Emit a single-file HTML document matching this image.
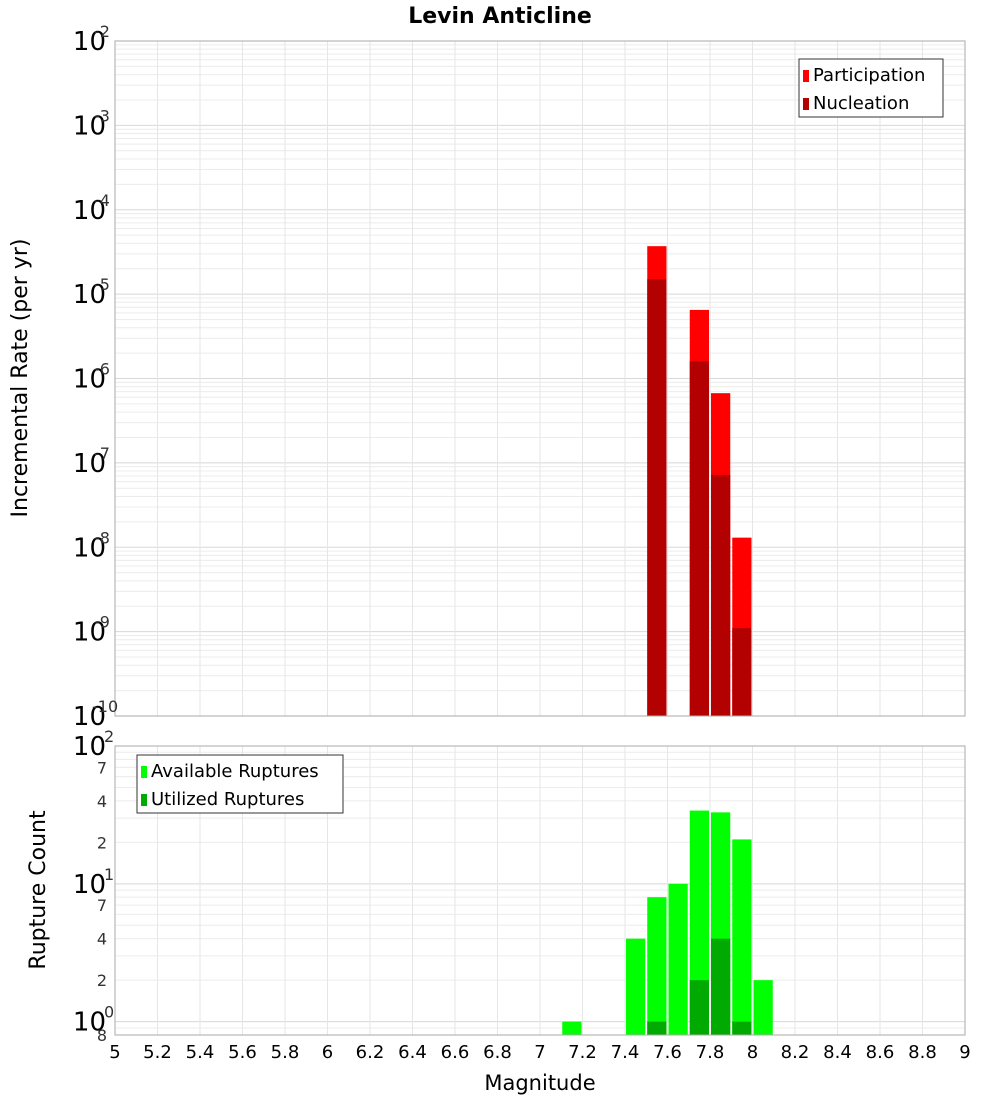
<!DOCTYPE html>
<html><head><meta charset="utf-8"><style>
body{margin:0;background:#fff;font-family:"DejaVu Sans","Liberation Sans",sans-serif}
svg text{font-family:"DejaVu Sans","Liberation Sans",sans-serif}
</style></head><body>
<svg id="c" width="1000" height="1100" xmlns="http://www.w3.org/2000/svg"></svg>
<script>
const mags=[7.15,7.45,7.55,7.65,7.75,7.85,7.95,8.05];
const partVals=[0,0,3.7e-5,0,6.5e-6,6.7e-7,1.3e-8,0];
const nuclVals=[0,0,1.5e-5,0,1.6e-6,7.2e-8,1.1e-9,0];
const availVals=[1,4,8,10,34,33,21,2];
const utilVals=[0,0,1,0,2,4,1,0];
const xTicks=[5,5.2,5.4,5.6,5.8,6,6.2,6.4,6.6,6.8,7,7.2,7.4,7.6,7.8,8,8.2,8.4,8.6,8.8,9];
const topExps=[-10,-9,-8,-7,-6,-5,-4,-3,-2];
const botTicks=[[100,"10","2"],[70,"7"],[40,"4"],[20,"2"],[10,"10","1"],[7,"7"],[4,"4"],[2,"2"],[1,"10","0"],[0.8,"8"]];
const NS="http://www.w3.org/2000/svg";
const svg=document.getElementById('c');
function el(t,a,p){const e=document.createElementNS(NS,t);for(const k in a)e.setAttribute(k,a[k]);(p||svg).appendChild(e);return e;}
const L=115,R=965;
const x=v=>L+(v-5)/4*(R-L);
const T0=41,T1=716;
const yT=v=>T1-(Math.log10(v)+10)/8*(T1-T0);
const B0=746,B1=1035;
const lmin=Math.log10(0.8),lmax=2;
const yB=v=>B1-(Math.log10(v)-lmin)/(lmax-lmin)*(B1-B0);
// grids
function grid(y0,y1,yf,lo,hi){
  for(let d=lo;d<hi;d++)for(let m=1;m<10;m++){const v=m*Math.pow(10,d);const yy=yf(v);if(yy<y0-0.5||yy>y1+0.5)continue;
    const g=el('line',{x1:L,x2:R,y1:yy,y2:yy,stroke:m==1?'#d8d8d8':'#ececec','stroke-width':1});}
  xTicks.forEach(t=>{const g=el('line',{x1:x(t),x2:x(t),y1:y0,y2:y1,stroke:'#e6e6e6'});});
}
grid(T0,T1,yT,-10,-2);
grid(B0,B1,yB,-1,2);
const bw=(R-L)/40;
mags.forEach((m,i)=>{
  const x0=x(m-0.05)+1,w=bw-2;
  if(partVals[i]>0){const r=el('rect',{x:x0,y:yT(partVals[i]),width:w,height:T1-yT(partVals[i]),fill:'#ff0000'});}
  if(nuclVals[i]>0){const r=el('rect',{x:x0,y:yT(nuclVals[i]),width:w,height:T1-yT(nuclVals[i]),fill:'#b30000'});}
  if(availVals[i]>0){const r=el('rect',{x:x0,y:yB(availVals[i]),width:w,height:B1-yB(availVals[i]),fill:'#00ff00'});}
  if(utilVals[i]>0){const r=el('rect',{x:x0,y:yB(utilVals[i]),width:w,height:B1-yB(utilVals[i]),fill:'#00aa00'});}
});
[[T0,T1,'top-plot-frame'],[B0,B1,'bottom-plot-frame']].forEach(f=>{const r=el('rect',{x:L,y:f[0],width:R-L,height:f[1]-f[0],fill:'none',stroke:'#aaa'});});
// top y ticks
topExps.forEach(e=>{const yy=yT(Math.pow(10,e));
  const t=el('text',{x:106,y:yy+9,'text-anchor':'end','font-size':26});t.textContent='10';
  const s=el('text',{x:100,y:yy-4,'font-size':16,fill:'#333'});s.textContent=String(e);
  s.setAttribute('x',e<0?(e<=-10?92:94):100);
});
botTicks.forEach(b=>{const yy=yB(b[0]);
  if(b.length==3){const t=el('text',{x:106,y:yy+9,'text-anchor':'end','font-size':26});t.textContent=b[1];
   const s=el('text',{x:104,y:yy-4,'font-size':16,fill:'#333'});s.textContent=b[2];}
  else{const t=el('text',{x:107,y:yy+6,'text-anchor':'end','font-size':16,fill:'#333'});t.textContent=b[1];}
});
xTicks.forEach(t=>{const tx=el('text',{x:x(t),y:1058,'text-anchor':'middle','font-size':18});tx.textContent=String(t);});
function txt(s,a,n){const t=el('text',a);t.textContent=s;return t;}
txt('Levin Anticline',{x:500,y:23,'text-anchor':'middle','font-size':22,'font-weight':'bold'},'chart-title');
txt('Magnitude',{x:540,y:1090,'text-anchor':'middle','font-size':21},'x-axis-title');
txt('Incremental Rate (per yr)',{x:27,y:378,'text-anchor':'middle','font-size':22,transform:'rotate(-90 27 378)'},'top-y-axis-title');
txt('Rupture Count',{x:45,y:890,'text-anchor':'middle','font-size':22,transform:'rotate(-90 45 890)'},'bottom-y-axis-title');
function legend(x0,y0,w,items,n){const g=el('g',{});
  el('rect',{x:x0,y:y0,width:w,height:58,fill:'#fff',stroke:'#333'},g);
  items.forEach((it,i)=>{el('rect',{x:x0+4,y:y0+11+i*28,width:6,height:12,fill:it[1]},g);
    const t=el('text',{x:x0+14,y:y0+22+i*28,'font-size':18},g);t.textContent=it[0];});
}
legend(799,59,144,[['Participation','#ff0000'],['Nucleation','#b30000']],'top-legend');
legend(137,755,206,[['Available Ruptures','#00ff00'],['Utilized Ruptures','#00aa00']],'bottom-legend');
</script>
</body></html>
